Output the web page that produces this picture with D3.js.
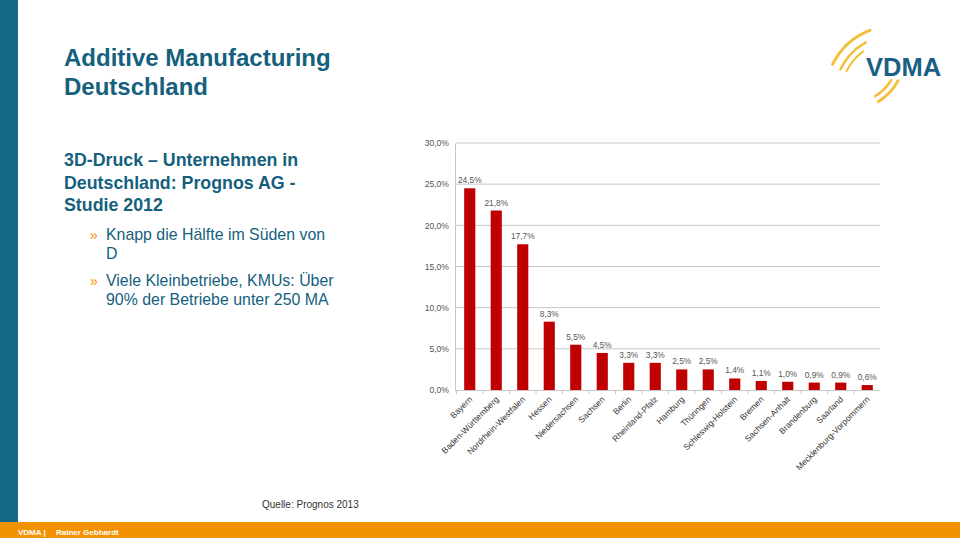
<!DOCTYPE html>
<html><head><meta charset="utf-8">
<script src="https://cdn.jsdelivr.net/npm/d3@7"></script>
<style>body{margin:0;background:#fff;}svg{display:block;font-family:"Liberation Sans",Arial,sans-serif;}</style>
</head><body>
<svg id="c" width="960" height="538"></svg>
<script>
const categories = ["Bayern","Baden-Württemberg","Nordrhein-Westfalen","Hessen","Niedersachsen","Sachsen","Berlin","Rheinland-Pfalz","Hamburg","Thüringen","Schleswig-Holstein","Bremen","Sachsen-Anhalt","Brandenburg","Saarland","Mecklenburg-Vorpommern"];
const values = [24.5,21.8,17.7,8.3,5.5,4.5,3.3,3.3,2.5,2.5,1.4,1.1,1.0,0.9,0.9,0.6];
const yTicks = [0,5,10,15,20,25,30];

const svg = d3.select("#c");
const teal = "#14607d";
// Frame
svg.append("rect").attr("x",0).attr("y",0).attr("width",18).attr("height",522).attr("fill","#146a87");
svg.append("rect").attr("x",0).attr("y",522).attr("width",960).attr("height",16).attr("fill","#f39200");
svg.append("text").attr("x",18).attr("y",534.5).attr("fill","#fff").attr("font-size",8).attr("font-weight","bold").text("VDMA |");
svg.append("text").attr("x",56).attr("y",534.5).attr("fill","#fff").attr("font-size",8).attr("font-weight","bold").text("Rainer Gebhardt");

// Titles
const t = svg.append("g").attr("fill",teal).attr("font-weight","bold");
t.append("text").attr("x",64).attr("y",66).attr("font-size",24).text("Additive Manufacturing");
t.append("text").attr("x",64).attr("y",95).attr("font-size",24).text("Deutschland");
["3D-Druck – Unternehmen in","Deutschland: Prognos AG -","Studie 2012"].forEach((s,i)=>
  t.append("text").attr("x",64).attr("y",166+i*22.5).attr("font-size",17.8).text(s));
const bullets = [{y:240,lines:["Knapp die Hälfte im Süden von","D"]},{y:286,lines:["Viele Kleinbetriebe, KMUs: Über","90% der Betriebe unter 250 MA"]}];
bullets.forEach(b=>{
  svg.append("text").attr("x",90).attr("y",b.y).attr("fill","#f39200").attr("font-size",14).text("»");
  b.lines.forEach((l,i)=>svg.append("text").attr("x",106).attr("y",b.y+i*19).attr("fill",teal).attr("font-size",15.9).text(l));
});
svg.append("text").attr("x",262).attr("y",508).attr("fill","#333").attr("font-size",10).text("Quelle: Prognos 2013");

// Logo
const gold = "#f2bf3a";
const up = svg.append("g").attr("transform","translate(895,95)");
[[68,-65,-20,3],[59,-66,-28,2.5],[53,-65,-35,2]].forEach(a=>{
  const arc = d3.arc().innerRadius(a[0]).outerRadius(a[0]+a[3]).startAngle(a[1]*Math.PI/180).endAngle(a[2]*Math.PI/180).cornerRadius(1);
  up.append("path").attr("d",arc()).attr("fill",gold);
});
const lo = svg.append("g").attr("transform","translate(850,55)");
[[53,117,150,3],[47,120,150,2.5]].forEach(a=>{
  const arc = d3.arc().innerRadius(a[0]).outerRadius(a[0]+a[3]).startAngle(a[1]*Math.PI/180).endAngle(a[2]*Math.PI/180).cornerRadius(1);
  lo.append("path").attr("d",arc()).attr("fill",gold);
});
svg.append("text").attr("x",866).attr("y",76).attr("fill","#1a5f85").attr("font-size",25.5).attr("font-weight","bold").text("VDMA");

// Chart
const xs = d3.scaleBand().domain(categories).range([456.5,880.5]).paddingInner(0.58).paddingOuter(0.29);
const y = d3.scaleLinear().domain([0,30]).range([390,143]);
const pct = d=>d3.format(".1f")(d).replace(".",",")+"%";

const g = svg.append("g");
g.selectAll("line.grid").data(yTicks.slice(1)).enter().append("line")
  .attr("x1",456).attr("x2",880).attr("y1",d=>y(d)).attr("y2",d=>y(d))
  .attr("stroke","#c8c8c8").attr("stroke-width",1);
const yAxis = d3.axisLeft(y).tickValues(yTicks).tickSize(0).tickFormat(pct);
const ya = g.append("g").attr("transform","translate(455,0)").call(yAxis);
ya.select(".domain").attr("stroke","#c8c8c8");
ya.selectAll("text").attr("font-size",8.6).attr("fill","#555").attr("dx",-3).attr("font-family","'Liberation Sans',Arial,sans-serif");

g.append("line").attr("x1",455).attr("x2",880).attr("y1",390.5).attr("y2",390.5).attr("stroke","#c8c8c8");
g.selectAll("line.tk").data(categories).enter().append("line")
  .attr("x1",d=>xs(d)-xs.step()*xs.paddingInner()/2).attr("x2",d=>xs(d)-xs.step()*xs.paddingInner()/2)
  .attr("y1",390).attr("y2",394).attr("stroke","#c8c8c8");
g.selectAll("rect.bar").data(values).enter().append("rect")
  .attr("x",(d,i)=>xs(categories[i])).attr("width",xs.bandwidth())
  .attr("y",d=>y(d)).attr("height",d=>390-y(d)).attr("fill","#c00000");
g.selectAll("text.val").data(values).enter().append("text")
  .attr("x",(d,i)=>xs(categories[i])+xs.bandwidth()/2).attr("y",d=>y(d)-5)
  .attr("text-anchor","middle").attr("font-size",8.4).attr("fill","#555")
  .text(pct);
g.selectAll("text.cat").data(categories).enter().append("text")
  .attr("transform",d=>`translate(${xs(d)+xs.bandwidth()/2+3},${400}) rotate(-45)`)
  .attr("text-anchor","end").attr("font-size",8.5).attr("fill","#333").text(d=>d);
</script>
</body></html>
